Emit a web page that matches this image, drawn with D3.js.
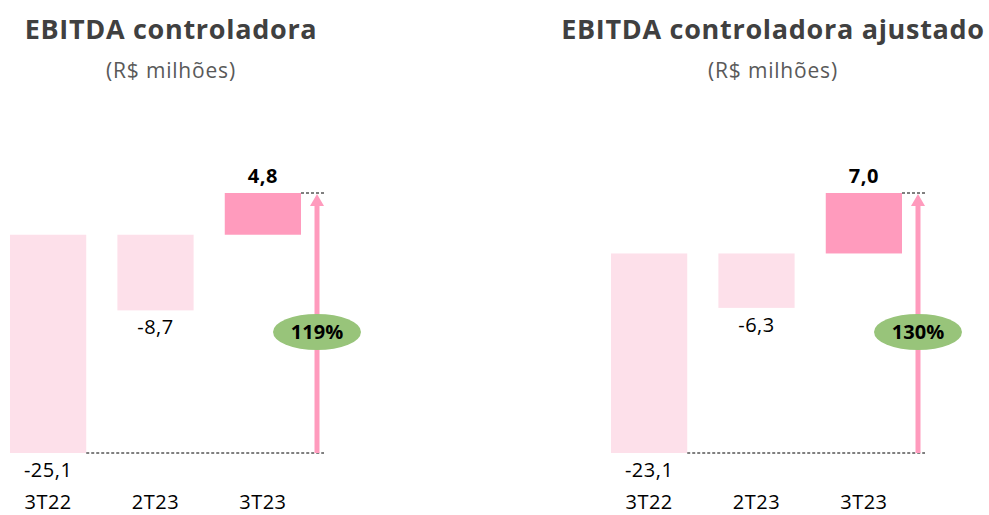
<!DOCTYPE html>
<html>
<head>
  <meta charset="utf-8">
  <script src="https://d3js.org/d3.v7.min.js"></script>
  <style>
    body { margin: 0; background: #fff; }
    svg { font-family: "Open Sans", Lato, sans-serif; }
  </style>
</head>
<body>
<script>
  // data
  var categories = ["3T22", "2T23", "3T23"];
  var ebitda = [-25.1, -8.7, 4.8];
  var ebitdaAjustado = [-23.1, -6.3, 7.0];
  var titles = ["EBITDA controladora", "EBITDA controladora ajustado"];
  var growth = ["119%", "130%"];

  var lightPink = "#fde0ea",
      pink = "#ff9bbd",
      green = "#98c47a";

  var svg = d3.select("body").append("svg")
      .attr("width", 989)
      .attr("height", 515);

  var fmt = function (d) {
    return d3.format(".1f")(d).replace(".", ",").replace("\u2212", "-");
  };

  // one small waterfall-like panel per series
  function panel(values, title, pct, x0, cx) {
    var g = svg.append("g");

    var x = d3.scaleBand()
        .domain(categories)
        .range([x0, x0 + 291])
        .paddingInner(0.29)
        .paddingOuter(0);

    var y = d3.scaleLinear()
        .domain([d3.min(values), d3.max(values)])
        .range([453, 193]);

    g.append("text")
        .attr("x", cx).attr("y", 39)
        .attr("text-anchor", "middle")
        .style("font-size", "27px")
        .style("letter-spacing", "0.7px")
        .style("font-weight", "bold")
        .style("fill", "#404040")
        .text(title);

    g.append("text")
        .attr("x", cx).attr("y", 78)
        .attr("text-anchor", "middle")
        .style("font-size", "21px")
        .style("letter-spacing", "0.8px")
        .style("fill", "#595959")
        .text("(R$ milhões)");

    g.selectAll("rect.bar")
        .data(values)
        .enter().append("rect")
        .attr("class", "bar")
        .attr("x", function (d, i) { return x(categories[i]); })
        .attr("width", x.bandwidth())
        .attr("y", function (d) { return y(Math.max(0, d)); })
        .attr("height", function (d) { return Math.abs(y(d) - y(0)); })
        .style("fill", function (d) { return d < 0 ? lightPink : pink; });

    // value labels: below negatives, above positives
    g.selectAll("text.val")
        .data(values)
        .enter().append("text")
        .attr("class", "val")
        .attr("x", function (d, i) { return x(categories[i]) + x.bandwidth() / 2; })
        .attr("y", function (d) { return d < 0 ? y(d) + 24 : y(d) - 10; })
        .attr("text-anchor", "middle")
        .style("font-size", "20px")
        .style("letter-spacing", "0.5px")
        .style("font-weight", function (d) { return d < 0 ? "normal" : "bold"; })
        .style("fill", "#000")
        .text(fmt);

    g.selectAll("text.cat")
        .data(categories)
        .enter().append("text")
        .attr("class", "cat")
        .attr("x", function (d) { return x(d) + x.bandwidth() / 2; })
        .attr("y", 509)
        .attr("text-anchor", "middle")
        .style("font-size", "20px")
        .style("letter-spacing", "0.5px")
        .style("fill", "#000")
        .text(function (d) { return d; });

    var last = categories[categories.length - 1];
    var ax = x(last) + x.bandwidth() + 16;
    var yLow = y(d3.min(values)), yHigh = y(d3.max(values));

    // dashed guides
    g.append("line")
        .attr("x1", x(categories[0]) + x.bandwidth()).attr("x2", ax + 7)
        .attr("y1", yLow).attr("y2", yLow)
        .style("stroke", "#000").style("stroke-width", 1)
        .style("stroke-dasharray", "3,2");
    g.append("line")
        .attr("x1", x(last) + x.bandwidth()).attr("x2", ax + 7)
        .attr("y1", yHigh).attr("y2", yHigh)
        .style("stroke", "#000").style("stroke-width", 1)
        .style("stroke-dasharray", "3,2");

    // arrow
    g.append("line")
        .attr("x1", ax).attr("x2", ax)
        .attr("y1", yLow).attr("y2", yHigh + 12)
        .style("stroke", pink).style("stroke-width", 5);
    g.append("path")
        .attr("d", "M" + (ax - 7) + "," + (yHigh + 13) + "L" + ax + "," + (yHigh + 1) + "L" + (ax + 7) + "," + (yHigh + 13) + "Z")
        .style("fill", pink);

    g.append("ellipse")
        .attr("cx", ax).attr("cy", 332)
        .attr("rx", 44).attr("ry", 18)
        .style("fill", green);
    g.append("text")
        .attr("x", ax).attr("y", 339)
        .attr("text-anchor", "middle")
        .style("font-size", "20px")
        .style("font-weight", "bold")
        .style("fill", "#000")
        .text(pct);
  }

  panel(ebitda, titles[0], growth[0], 10, 171);
  panel(ebitdaAjustado, titles[1], growth[1], 611, 773);
</script>
</body>
</html>
